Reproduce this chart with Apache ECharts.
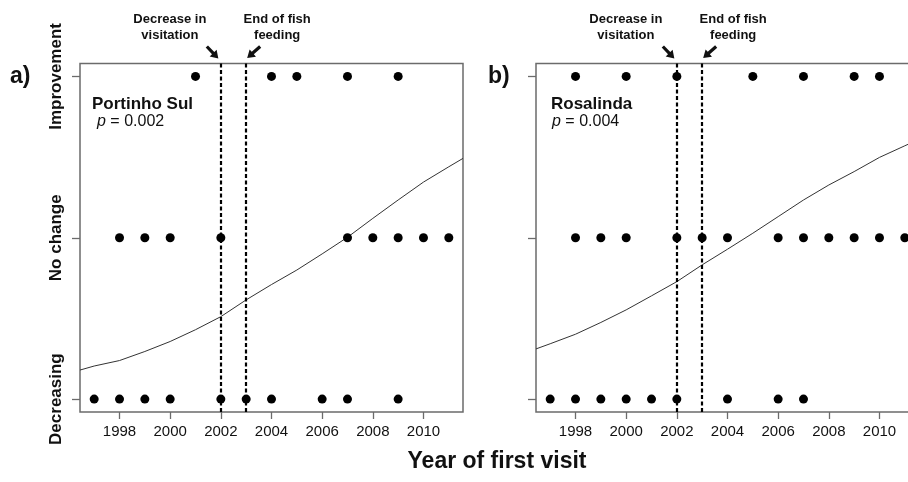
<!DOCTYPE html>
<html>
<head>
<meta charset="utf-8">
<script src="https://cdn.jsdelivr.net/npm/echarts@6/dist/echarts.min.js"></script>
<style>
  html, body { margin: 0; padding: 0; background: #ffffff; }
  #chart { width: 908px; height: 482px; }
</style>
</head>
<body>
<div id="chart"></div>
<script>
const FONT = '"Liberation Sans", Arial, Helvetica, sans-serif';
const INK = '#111111';

// Axis ticks and labels
const xTickYears = [1998, 2000, 2002, 2004, 2006, 2008, 2010];
const yearRange = [1996.44, 2011.56];
const responseLevels = [1, 2, 3];
const responseLabels = ['Decreasing', 'No change', 'Improvement'];
const responseRange = [0.92, 3.08];

// Management events (vertical dashed lines)
const eventYears = [2002, 2003];
const eventNotes = ['Decrease in\nvisitation', 'End of fish\nfeeding'];

// Panels
const panelTags = ['a)', 'b)'];
const panelNames = ['Portinho Sul', 'Rosalinda'];
const pValues = ['0.002', '0.004'];

// Year of first visit, grouped by reported change
const portinhoImprovement = [2001, 2004, 2005, 2007, 2009];
const portinhoNoChange = [1998, 1999, 2000, 2002, 2007, 2008, 2009, 2010, 2011];
const portinhoDecreasing = [1997, 1998, 1999, 2000, 2002, 2003, 2004, 2006, 2007, 2009];

const rosalindaImprovement = [1998, 2000, 2002, 2005, 2007, 2009, 2010];
const rosalindaNoChange = [1998, 1999, 2000, 2002, 2003, 2004, 2006, 2007, 2008, 2009, 2010, 2011];
const rosalindaDecreasing = [1997, 1998, 1999, 2000, 2001, 2002, 2004, 2006, 2007];

// Fitted ordinal-regression trend
const fitYears = [1996.44, 1997, 1998, 1999, 2000, 2001, 2002, 2003, 2004, 2005, 2006, 2007, 2008, 2009, 2010, 2011, 2011.56];
const portinhoFit = [1.18, 1.205, 1.239, 1.295, 1.357, 1.43, 1.511, 1.615, 1.71, 1.80, 1.90, 2.003, 2.12, 2.234, 2.345, 2.44, 2.492];
const rosalindaFit = [1.311, 1.343, 1.402, 1.475, 1.553, 1.64, 1.728, 1.832, 1.929, 2.028, 2.131, 2.234, 2.327, 2.41, 2.498, 2.57, 2.61];

const panels = [
  { improvement: portinhoImprovement, noChange: portinhoNoChange, decreasing: portinhoDecreasing, fit: portinhoFit },
  { improvement: rosalindaImprovement, noChange: rosalindaNoChange, decreasing: rosalindaDecreasing, fit: rosalindaFit }
];

const chart = echarts.init(document.getElementById('chart'), null, { renderer: 'canvas' });

// The second panel runs past the right edge of the canvas, so its right border is not seen
const grids = [
  { left: 80, top: 63.5, width: 383, height: 348.5 },
  { left: 536, top: 63.5, width: 383, height: 348.5 }
].map(g => Object.assign(g, {
  show: true, borderColor: '#6b6b6b', borderWidth: 1.5, backgroundColor: 'transparent',
  containLabel: false, outerBoundsMode: 'none'
}));

const xAxes = panels.map((p, i) => ({
  type: 'value', gridIndex: i, min: yearRange[0], max: yearRange[1],
  axisLine: { show: false },
  splitLine: { show: false },
  axisTick: { show: true, customValues: xTickYears, length: 7, lineStyle: { color: '#6b6b6b', width: 1.3 } },
  axisLabel: {
    show: true, customValues: xTickYears, margin: 12, fontSize: 15, color: INK, fontFamily: FONT,
    formatter: v => String(Math.round(v))
  }
}));

const yAxes = panels.map((p, i) => ({
  type: 'value', gridIndex: i, min: responseRange[0], max: responseRange[1],
  axisLine: { show: false },
  splitLine: { show: false },
  axisTick: { show: true, customValues: responseLevels, length: 8, lineStyle: { color: '#6b6b6b', width: 1.3 } },
  axisLabel: {
    show: i === 0, customValues: responseLevels, rotate: 90, margin: 15,
    fontSize: 17, fontWeight: 'bold', color: INK, fontFamily: FONT,
    formatter: v => responseLabels[responseLevels.indexOf(Math.round(v))] || ''
  }
}));

const series = [];
panels.forEach((p, i) => {
  series.push({
    type: 'line', xAxisIndex: i, yAxisIndex: i,
    data: fitYears.map((y, k) => [y, p.fit[k]]),
    showSymbol: false, smooth: false, silent: true,
    lineStyle: { color: '#333333', width: 1 },
    z: 2,
    markLine: {
      silent: true, symbol: ['none', 'none'], label: { show: false },
      lineStyle: { color: '#000000', width: 2.2, type: [4, 2.5] },
      data: eventYears.map(y => ({ xAxis: y }))
    }
  });
  [[p.decreasing, responseLevels[0]], [p.noChange, responseLevels[1]], [p.improvement, responseLevels[2]]].forEach(([years, level]) => {
    series.push({
      type: 'scatter', xAxisIndex: i, yAxisIndex: i,
      data: years.map(y => [y, level]),
      symbol: 'circle', symbolSize: 9, silent: true,
      itemStyle: { color: '#000000', opacity: 1 }, z: 5
    });
  });
});

chart.setOption({
  animation: false,
  backgroundColor: '#ffffff',
  grid: grids,
  xAxis: xAxes,
  yAxis: yAxes,
  series: series
});

// Annotations: panel tags, site names, event notes with arrows, shared x title
function arrow(tail, tip) {
  const dx = tip[0] - tail[0], dy = tip[1] - tail[1];
  const len = Math.hypot(dx, dy);
  const ux = dx / len, uy = dy / len;
  const nx = -uy, ny = ux;
  const headLen = 7.5, headHalf = 4.8, shaftHalf = 1.6;
  const bx = tip[0] - ux * headLen, by = tip[1] - uy * headLen;
  return {
    type: 'polygon', silent: true, z: 100,
    shape: { points: [
      [tail[0] + nx * shaftHalf, tail[1] + ny * shaftHalf],
      [bx + nx * shaftHalf, by + ny * shaftHalf],
      [bx + nx * headHalf, by + ny * headHalf],
      tip,
      [bx - nx * headHalf, by - ny * headHalf],
      [bx - nx * shaftHalf, by - ny * shaftHalf],
      [tail[0] - nx * shaftHalf, tail[1] - ny * shaftHalf]
    ] },
    style: { fill: INK }
  };
}

const graphics = [];
const nameX = [[92, 97], [551, 552]];
const tagX = [10, 488];

panels.forEach((p, i) => {
  const top = chart.convertToPixel({ gridIndex: i }, [yearRange[0], responseRange[1]])[1];
  const lineX = eventYears.map(y => chart.convertToPixel({ gridIndex: i }, [y, responseRange[1]])[0]);

  graphics.push({
    type: 'text', x: tagX[i], y: 77, silent: true, z: 100,
    style: { text: panelTags[i], fill: INK, fontFamily: FONT, fontSize: 23, fontWeight: 'bold', align: 'left', verticalAlign: 'middle' }
  });
  graphics.push({
    type: 'text', x: nameX[i][0], y: 104, silent: true, z: 100,
    style: { text: panelNames[i], fill: INK, fontFamily: FONT, fontSize: 17, fontWeight: 'bold', align: 'left', verticalAlign: 'middle' }
  });
  graphics.push({
    type: 'text', x: nameX[i][1], y: 122, silent: true, z: 100,
    style: {
      text: '{i|p} = ' + pValues[i], fill: INK, fontFamily: FONT, fontSize: 16, align: 'left', verticalAlign: 'middle',
      rich: { i: { fontStyle: 'italic', fontFamily: FONT, fontSize: 16, fill: INK } }
    }
  });

  // event notes
  const noteOffset = [-51, 31];
  eventNotes.forEach((note, k) => {
    graphics.push({
      type: 'text', x: lineX[k] + noteOffset[k], y: 27, silent: true, z: 100,
      style: { text: note, fill: INK, fontFamily: FONT, fontSize: 13, fontWeight: 'bold', align: 'center', verticalAlign: 'middle', lineHeight: 16 }
    });
  });
  graphics.push(arrow([lineX[0] - 14, top - 17], [lineX[0] - 2.5, top - 5]));
  graphics.push(arrow([lineX[1] + 14, top - 17], [lineX[1] + 1, top - 5.5]));
});

graphics.push({
  type: 'text', x: 497, y: 462, silent: true, z: 100,
  style: { text: 'Year of first visit', fill: INK, fontFamily: FONT, fontSize: 23, fontWeight: 'bold', align: 'center', verticalAlign: 'middle' }
});

chart.setOption({ graphic: graphics });
</script>
</body>
</html>
